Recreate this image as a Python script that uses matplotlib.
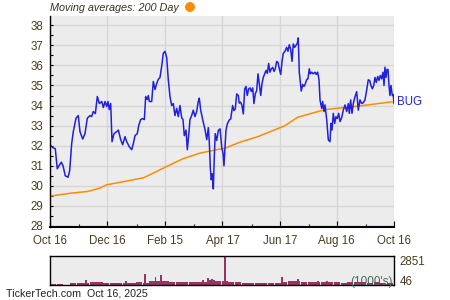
import matplotlib
matplotlib.use("Agg")
import matplotlib.pyplot as plt
from matplotlib.ticker import FixedLocator
from matplotlib.patches import Ellipse

plt.rcParams['font.family'] = ['Liberation Sans', 'DejaVu Sans']

# days since Oct 16, 2024
price_day = [0.7, 3.2, 5.6, 7.7, 9.5, 12.0, 13.8, 16.2, 19.1, 20.9, 23.0, 24.7, 27.6, 30.0, 31.8,
             34.7, 37.1, 39.6, 42.4, 44.2, 45.9, 48.1, 50.2, 52.3, 54.9, 56.6, 58.4, 60.2, 61.5,
             62.9, 64.4, 65.8, 67.9, 70.8, 72.5, 75.0, 77.1, 79.6, 81.4, 84.1, 86.7, 88.4, 90.2,
             92.6, 94.1, 96.2, 98.1, 100.1, 101.5, 103.2, 104.3, 105.4, 107.9, 109.6, 111.4,
             113.2, 114.9, 116.7, 118.5, 120.2, 122.0, 123.8, 125.5, 127.3, 129.1, 130.8, 132.6,
             134.4, 136.1, 137.9, 139.7, 141.1, 142.5, 144.3, 145.7, 147.5, 148.5, 150.3, 152.0,
             153.8, 155.6, 157.3, 158.4, 159.9, 162.0, 164.5, 166.3, 168.0, 169.0, 170.1, 171.1,
             172.2, 173.3, 174.3, 175.3, 176.9, 178.6, 180.4, 182.2, 183.6, 184.6, 186.7, 188.1,
             190.2, 191.7, 193.8, 195.2, 196.6, 198.1, 199.8, 200.8, 202.3, 203.7, 205.1, 206.6,
             208.0, 209.3, 210.8, 212.2, 213.6, 215.1, 216.4, 217.8, 219.3, 220.7, 222.1, 223.6,
             224.9, 226.3, 227.8, 229.2, 230.6, 232.0, 233.4, 234.8, 236.3, 237.7, 239.0, 240.5,
             241.9, 243.3, 244.8, 246.2, 247.5, 249.3, 251.1, 252.5, 253.9, 255.4, 256.8, 258.1,
             259.6, 261.0, 262.4, 263.4, 264.5, 266.0, 266.6, 268.1, 269.5, 270.9, 272.4, 273.7,
             275.1, 276.2, 277.7, 279.4, 281.2, 282.5, 284.0, 285.4, 286.5, 288.3, 289.3, 290.7,
             291.8, 293.6, 295.3, 297.1, 298.1, 299.2, 300.6, 302.1, 303.4, 304.8, 306.3, 307.7,
             309.5, 311.2, 313.0, 314.8, 316.5, 317.6, 319.0, 320.4, 321.8, 323.6, 325.4, 327.1,
             328.9, 330.7, 332.4, 334.2, 336.0, 337.7, 339.2, 340.6, 342.0, 343.5, 344.8, 346.2,
             347.7, 349.1, 350.5, 351.9, 353.3, 354.4, 355.4, 356.5, 357.6, 358.6, 359.7, 360.7,
             361.8, 363.2, 364.2, 365.0]
price = [32.01, 31.9, 31.85, 30.85, 31.0, 31.18, 31.0, 30.5, 30.43, 30.76, 32.1, 32.7, 33.37, 33.5, 32.7,
         32.33, 32.6, 33.37, 33.5, 33.45, 33.7, 33.6, 34.45, 34.1, 34.2, 33.9, 34.2, 33.95, 34.2,
         33.8, 34.1, 32.2, 32.6, 32.7, 32.78, 32.3, 32.05, 32.45, 32.2, 31.95, 31.8, 32.1, 32.5,
         32.6, 33.0, 33.3, 33.35, 33.3, 34.45, 34.3, 34.5, 34.2, 34.2, 35.2, 34.8,
         35.1, 35.3, 35.4, 35.95, 36.6, 36.7, 36.4, 35.3, 34.45, 34.0, 34.1, 33.5,
         33.86, 33.45, 34.0, 33.4, 33.3, 32.5, 32.78, 31.8, 32.7, 33.3, 33.5, 33.77,
         33.45, 33.7, 34.2, 34.37, 33.77, 33.3, 32.8, 32.3, 32.9, 32.2, 30.9, 30.3,
         30.6, 29.85, 31.4, 32.6, 32.26, 32.76, 32.84, 31.93, 31.6, 31.0, 32.76, 33.08,
         33.28, 33.33, 34.0, 33.75, 33.83, 34.58, 34.5, 34.12, 34.17, 34.0, 33.58, 34.83,
         34.95, 34.5, 34.83, 34.88, 34.7, 34.88, 34.1, 34.58, 34.75, 35.58, 35.08, 34.5,
         35.08, 35.4, 35.58, 35.75, 35.6, 36.1, 35.66, 35.83, 35.9, 35.7, 35.83, 36.2,
         36.15, 35.83, 35.55, 36.2, 36.6, 36.7, 36.9, 36.7, 37.03, 36.8, 36.2, 37.07,
         36.9, 37.0, 37.1, 37.37, 35.66, 35.0, 34.72, 35.05, 34.95, 35.08, 35.3, 35.33,
         35.83, 35.58, 35.66, 35.58, 35.66, 35.55, 35.66, 35.3, 34.28, 33.86, 34.2, 33.7,
         34.03, 33.29, 32.29, 32.2, 33.11, 32.78, 33.61, 33.11, 33.44, 33.36, 33.61, 33.2,
         33.4, 33.77, 34.03, 33.7, 34.1, 33.61, 34.28, 33.61, 34.1, 34.44, 34.69, 33.77,
         34.28, 34.1, 34.14, 34.28, 34.77, 35.28, 35.25, 35.0, 34.83, 35.0, 35.4, 35.15,
         35.45, 35.25, 35.5, 35.33, 35.66, 35.0, 35.91, 35.4, 35.8, 35.8, 35.0, 34.5,
         35.0, 34.5, 34.55, 34.1]

ma_day = [0, 1.8, 23, 40, 53, 60, 88, 99, 109, 124, 141, 159, 177, 186, 200, 221, 249, 263, 275,
          292, 327, 365]
ma_200 = [29.48, 29.5, 29.64, 29.72, 29.89, 30.05, 30.3, 30.4, 30.62, 30.97, 31.35, 31.63, 31.8,
          31.88, 32.15, 32.46, 32.99, 33.42, 33.58, 33.8, 33.97, 34.2]

# volume (1000's), weekly level plus single-day spikes
vol_week = [50, 80, 40, 150, 200, 180, 250, 300, 200, 150, 200, 180, 200, 250, 150, 350, 400, 350,
            300, 280, 300, 250, 300, 300, 450, 400, 350, 250, 250, 200, 200, 150, 200, 200, 180,
            300, 400, 350, 300, 250, 250, 300, 300, 250, 200, 250, 300, 250, 200, 250, 200, 150]
spike_day = [38, 81, 101, 112, 118, 162, 168, 172, 186, 246, 253, 263, 284, 294]
spike_vol = [490, 390, 1080, 820, 980, 490, 650, 550, 2851, 750, 430, 590, 360, 360]

tick_days = [0, 61, 122, 183, 244, 304, 365]
tick_labels = ["Oct 16", "Dec 16", "Feb 15", "Apr 17", "Jun 17", "Aug 16", "Oct 16"]
minor_days = [31, 92, 153, 214, 275, 335]

txt = '#4a3b1f'
bg = '#ececec'

fig = plt.figure(figsize=(4.5, 3), dpi=100)
ax = fig.add_axes([50 / 450, 1 - 227 / 300, 344 / 450, 211 / 300])
ax.set_facecolor(bg)
ax.plot(ma_day, ma_200, color='#ff8c00', lw=1.1)
ax.plot(price_day, price, color='#2020dd', lw=1.1)
ax.set_xlim(0, 365)
ax.set_ylim(27.95, 38.46)
ax.set_yticks(range(28, 39))
ax.yaxis.set_minor_locator(FixedLocator([v + 0.5 for v in range(28, 38)]))
ax.set_xticks(tick_days)
ax.set_xticklabels(tick_labels)
ax.xaxis.set_minor_locator(FixedLocator(minor_days))
ax.grid(True, color='#d6d6d6', lw=1)
ax.set_axisbelow(True)
for s in ['top', 'right']:
    ax.spines[s].set_visible(False)
ax.spines['left'].set_linewidth(1)
ax.spines['bottom'].set_linewidth(1.5)
ax.tick_params(axis='y', which='both', direction='in', length=2.5, width=0.8, labelsize=8.3,
               labelcolor=txt, pad=5)
ax.tick_params(axis='x', which='major', direction='in', length=4, width=0.8, labelsize=8.3,
               labelcolor=txt, pad=6)
ax.tick_params(axis='x', which='minor', direction='in', length=2.5, width=0.8)
ax.text(1.008, ma_200[-1], "BUG", color='#2020dd', fontsize=8.3, va='center', ha='left',
        transform=ax.get_yaxis_transform())

fig.text(50 / 450, 1 - 8 / 300, "Moving averages: 200 Day", fontsize=7.8, style='italic',
         color='#3a3320', va='center', ha='left')
fig.add_artist(Ellipse((190 / 450, 1 - 7 / 300), 8.5 / 450, 8.5 / 300, color='#ff8c00',
                       transform=fig.transFigure))

vax = fig.add_axes([50 / 450, 1 - 285 / 300, 344 / 450, 29 / 300])
vax.set_facecolor(bg)
vax.bar([7 * i + 3.5 for i in range(len(vol_week))], vol_week, width=6.5, color='#993366', lw=0)
vax.bar(spike_day, spike_vol, width=1.8, color='#993366', lw=0)
vax.set_xlim(0, 365)
vax.set_ylim(0, 2851)
vax.set_xticks([])
vax.yaxis.tick_right()
vax.set_yticks([46, 2851])
vax.set_yticklabels(["46", "2851"])
vax.tick_params(axis='y', length=0, labelsize=8.3, labelcolor=txt, pad=4)
labs = vax.get_yticklabels()
labs[0].set_va('baseline')
labs[1].set_va('top')
for s in vax.spines.values():
    s.set_linewidth(1)
vax.text(0.995, 0.12, "(1000's)", transform=vax.transAxes, ha='right', va='center',
         fontsize=8.5, color='#3d6b55')

fig.text(6 / 450, 1 - 294 / 300, "TickerTech.com  Oct 16, 2025", fontsize=7.7, color='#222222',
         va='center', ha='left')

fig.savefig("out.png", dpi=100)
